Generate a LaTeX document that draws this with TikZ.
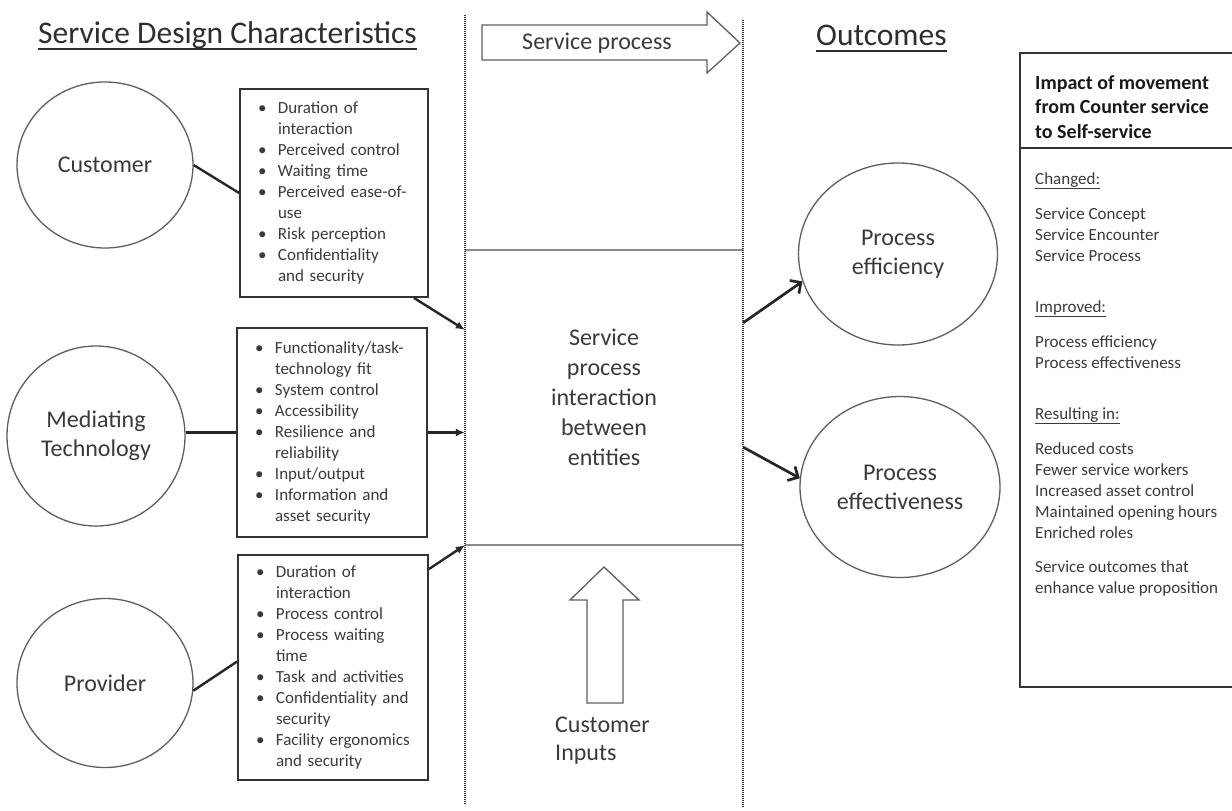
\documentclass[tikz,border=0pt]{standalone}
\usepackage{fontspec}
\setmainfont{Carlito}
\usetikzlibrary{arrows.meta,shapes.geometric}
\definecolor{txt}{HTML}{3A3A3A}
\definecolor{ttl}{HTML}{2E2E2E}
\definecolor{edge}{HTML}{5E5E5E}
\definecolor{boxline}{HTML}{333333}
\newcommand\bitem[1]{\mbox{\makebox[20pt][l]{\textbullet}#1}}
\newcommand\bcont[1]{\mbox{\hspace*{20pt}#1}}
\begin{document}
\begin{tikzpicture}[x=1pt,y=-1pt,
  every node/.style={text=txt},
  title/.style={font=\fontsize{31.5}{36}\selectfont, text=ttl, inner sep=0pt, anchor=base west},
  entity/.style={ellipse, draw=edge, line width=1.3pt, fill=white, align=center,
    font=\fontsize{24}{29}\selectfont, inner sep=0pt},
  listbox/.style={rectangle, draw=boxline, line width=1.8pt, align=left,
    font=\fontsize{17}{21}\selectfont, inner xsep=18pt, inner ysep=4pt},
  link/.style={line width=2.4pt, draw=black!85},
  inarrow/.style={line width=2.4pt, draw=black!85, -{Latex[length=9pt,width=8pt]}},
  outarrow/.style={line width=2.7pt, draw=black!85, -{Straight Barb[length=8pt,width=16pt]}},
  divider/.style={line width=1.6pt, draw=boxline, dash pattern=on 1pt off 1pt},
  fatarrow/.style={draw=edge, line width=1.3pt, fill=white, line join=miter}
]
\useasboundingbox (0,0) rectangle (1232,811);

% titles
\node[title] (t1) at (38,43) {Service Design Characteristics};
\draw[line width=2.2pt, draw=ttl] ([yshift=-6pt]t1.base west) -- ([yshift=-6pt]t1.base east);
\node[title] (t2) at (816,45) {Outcomes};
\draw[line width=2.2pt, draw=ttl] ([yshift=-6pt]t2.base west) -- ([yshift=-6pt]t2.base east);

% dividers
\coordinate (d1t) at (465,15);
\coordinate (d1b) at (465,805);
\coordinate (d2t) at (743,20);
\coordinate (d2b) at (743,807);

% central box
\node[minimum width=278pt, minimum height=295pt, align=center, inner sep=0pt,
  font=\fontsize{24}{30}\selectfont] (cen) at (604,397.5)
  {Service\\process\\interaction\\between\\entities};
\draw[line width=2pt, draw=black!45] (cen.north west) -- (cen.north east);
\draw[line width=2pt, draw=black!45] (cen.south west) -- (cen.south east);
\draw[divider] (d1t) -- (d1b);
\draw[divider] (d2t) -- (d2b);

% service process arrow
\draw[fatarrow] (482,25) -- (707,25) -- (707,12) -- (740,43) -- (707,73) -- (707,60) -- (482,60) -- cycle;
\node[font=\fontsize{24}{29}\selectfont] (sp) at (597,43) {Service process};

% customer inputs arrow
\draw[fatarrow] (604,567) -- (639,600) -- (623,600) -- (623,703) -- (587,703) -- (587,600) -- (570,600) -- cycle;
\node[anchor=west, align=left, font=\fontsize{24}{28}\selectfont, inner sep=0pt] (ci) at (555,741) {Customer\\Inputs};

% entities
\node[entity, minimum width=176pt, minimum height=166pt] (cust) at (105,165) {Customer};
\node[entity, minimum width=178pt, minimum height=180pt] (med) at (96,436) {Mediating\\Technology};
\node[entity, minimum width=176pt, minimum height=169pt] (prov) at (105,683) {Provider};

% characteristic boxes
\node[listbox, text width=152pt, minimum height=208pt] (b1) at (334,193) {%
\bitem{Duration of}\\
\bcont{interaction}\\
\bitem{Perceived control}\\
\bitem{Waiting time}\\
\bitem{Perceived ease-of-}\\
\bcont{use}\\
\bitem{Risk perception}\\
\bitem{Confidentiality}\\
\bcont{and security}};

\node[listbox, text width=154pt, minimum height=209pt] (b2) at (332,432.5) {%
\bitem{Functionality/task-}\\
\bcont{technology fit}\\
\bitem{System control}\\
\bitem{Accessibility}\\
\bitem{Resilience and}\\
\bcont{reliability}\\
\bitem{Input/output}\\
\bitem{Information and}\\
\bcont{asset security}};

\node[listbox, text width=154pt, minimum height=225pt] (b3) at (333,667.5) {%
\bitem{Duration of}\\
\bcont{interaction}\\
\bitem{Process control}\\
\bitem{Process waiting}\\
\bcont{time}\\
\bitem{Task and activities}\\
\bitem{Confidentiality and}\\
\bcont{security}\\
\bitem{Facility ergonomics}\\
\bcont{and security}};

% links entity -> box
\draw[link] (cust.east) -- (b1.west);
\draw[link] (med.east |- b2.west) -- (b2.west);
\draw[link] (prov.-5) -- ([yshift=6pt]b3.west);

% arrows box -> centre
\draw[inarrow] ([xshift=-15pt]b1.south east) -- ([yshift=-80pt]cen.north west);
\draw[inarrow] (b2.east) -- (cen.west |- b2.east);
\draw[inarrow] ([yshift=-15pt]b3.north east) -- (cen.south west);

% outcomes
\node[entity, minimum width=199pt, minimum height=182pt] (eff) at (898,254) {Process\\efficiency};
\node[entity, minimum width=200pt, minimum height=181pt] (effn) at (900,487) {Process\\effectiveness};
\draw[outarrow] ([yshift=-73pt]cen.north east) -- (eff.196);
\draw[outarrow] ([yshift=98pt]cen.south east) -- (effn.175);

% impact box
\coordinate (rtr) at (1232,53);
\coordinate (rtl) at (1020,53);
\coordinate (rbl) at (1020,687);
\coordinate (rbr) at (1232,687);
\coordinate (rsl) at (1020,148);
\coordinate (rsr) at (1232,148);
\draw[line width=2pt, draw=boxline] (rtr) -- (rtl) -- (rbl) -- (rbr);
\draw[line width=2pt, draw=boxline] (rsl) -- (rsr);
\node[anchor=north west, align=left, inner sep=0pt, text=black!90,
  font=\bfseries\fontsize{20}{24.5}\selectfont] (rh) at (1035,75)
  {Impact of movement\\from Counter service\\to Self-service};
\node[anchor=north west, align=left, inner sep=0pt,
  font=\fontsize{17}{21}\selectfont] (rb) at (1035,172) {%
\underline{Changed:}\\[14pt]
Service Concept\\
Service Encounter\\
Service Process\\[30pt]
\underline{Improved:}\\[14pt]
Process efficiency\\
Process effectiveness\\[30pt]
\underline{Resulting in:}\\[14pt]
Reduced costs\\
Fewer service workers\\
Increased asset control\\
Maintained opening hours\\
Enriched roles\\[13pt]
Service outcomes that\\
enhance value proposition};
\end{tikzpicture}
\end{document}
